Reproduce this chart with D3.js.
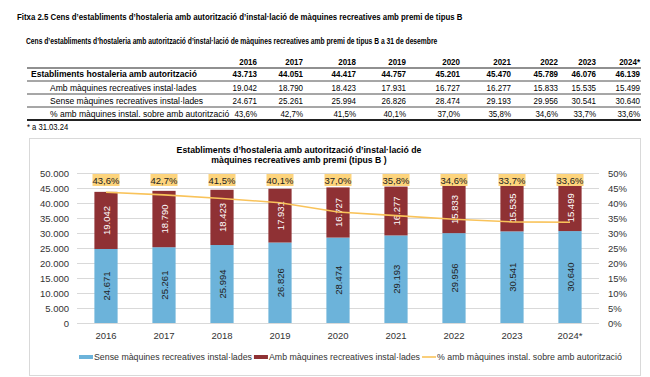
<!DOCTYPE html>
<html>
<head>
<meta charset="utf-8">
<script src="https://cdn.jsdelivr.net/npm/d3@7"></script>
<style>
  body { margin: 0; background: #fff; }
  text { font-family: "Liberation Sans", Arial, sans-serif; }
</style>
</head>
<body>
<div id="chart"></div>
<script>
// data
const years = ["2016", "2017", "2018", "2019", "2020", "2021", "2022", "2023", "2024*"];
const totals = [43713, 44051, 44417, 44757, 45201, 45470, 45789, 46076, 46139];
const amb = [19042, 18790, 18423, 17931, 16727, 16277, 15833, 15535, 15499];
const sense = [24671, 25261, 25994, 26826, 28474, 29193, 29956, 30541, 30640];
const pct = [43.6, 42.7, 41.5, 40.1, 37.0, 35.8, 34.6, 33.7, 33.6];
const rowLabels = ["Establiments hostaleria amb autorització", "Amb màquines recreatives instal·lades",
    "Sense màquines recreatives instal·lades", "% amb màquines instal. sobre amb autorització"];
const legendLabels = ["Sense màquines recreatives instal·lades", "Amb màquines recreatives instal·lades",
    "% amb màquines instal. sobre amb autorització"];

const loc = d3.formatLocale({ decimal: ",", thousands: ".", grouping: [3], currency: ["", "€"] });
const fmtN = loc.format(",.0f");
const fmtP = loc.format(".1f");
const fmtPct = loc.format(".0%");

const colBlue = "#6cb3da", colRed = "#8f3134", colLine = "#f9c35a", colBox = "#fdd47c";

const width = 650, height = 377;
const svg = d3.select("#chart").append("svg")
    .attr("width", width).attr("height", height);

// no narrow font installed: squeeze text horizontally instead
function ntext(g, x, y, k, txt) {
    return g.append("text")
        .attr("transform", `translate(${x},${y}) scale(${k},1)`)
        .attr("dominant-baseline", "central")
        .text(txt);
}

// headings
ntext(svg, 17, 16.5, 0.8, "Fitxa 2.5 Cens d’establiments d’hostaleria amb autorització d’instal·lació de màquines recreatives amb premi de tipus B")
    .style("font-size", "9.8px").style("font-weight", "bold");
ntext(svg, 26, 41, 0.8, "Cens d’establiments d’hostaleria amb autorització d’instal·lació de màquines recreatives amb premi de tipus B a 31 de desembre")
    .style("font-size", "8.4px").style("font-weight", "bold");

// table
const colRight = [257, 303, 356, 406, 460, 511, 558, 596, 640];
const rowY = [74, 87.5, 100.5, 113.5];
const kT = 0.84, kL = 0.9;
const table = svg.append("g");
years.forEach((d, i) => {
    ntext(table, colRight[i], 62, kT, d)
        .attr("text-anchor", "end")
        .style("font-size", "9.5px").style("font-weight", "bold");
});
[68, 81, 94, 107].forEach(y => {
    table.append("line").attr("x1", 27).attr("x2", 641).attr("y1", y).attr("y2", y)
        .attr("stroke", "#222").attr("stroke-width", y === 68 ? 1.2 : 0.8);
});
table.append("line").attr("x1", 27).attr("x2", 641).attr("y1", 120).attr("y2", 120)
    .attr("stroke", "#222").attr("stroke-width", 1.8);

const rows = [totals.map(fmtN), amb.map(fmtN), sense.map(fmtN), pct.map(d => fmtP(d) + "%")];
rows.forEach((vals, r) => {
    ntext(table, r === 0 ? 31 : 50, rowY[r], kL, rowLabels[r])
        .style("font-size", "9.5px").style("font-weight", r === 0 ? "bold" : "normal");
    vals.forEach((v, i) => {
        ntext(table, colRight[i], rowY[r], kT, v)
            .attr("text-anchor", "end")
            .style("font-size", "9.5px").style("font-weight", r === 0 ? "bold" : "normal");
    });
});
ntext(svg, 27, 127, 0.9, "* a 31.03.24").style("font-size", "8.5px");

// chart frame
svg.append("rect").attr("x", 29.5).attr("y", 138.5).attr("width", 611).attr("height", 237)
    .attr("fill", "#fff").attr("stroke", "#d9d9d9");

const title = svg.append("text").attr("text-anchor", "middle")
    .style("font-size", "8.7px").style("font-weight", "bold");
title.append("tspan").attr("x", 299).attr("y", 152.5)
    .text("Establiments d’hostaleria amb autorització d’instal·lació de");
title.append("tspan").attr("x", 299).attr("y", 162.5)
    .text("màquines recreatives amb premi (tipus B )");

// scales
const x = d3.scaleBand().domain(years).range([77, 599]).paddingInner(0.6).paddingOuter(0.3);
const y = d3.scaleLinear().domain([0, 50000]).range([323, 173]);
const yR = d3.scaleLinear().domain([0, 0.5]).range([323, 173]);
const ticks = d3.range(0, 50001, 5000);

// grid
svg.append("g").selectAll("line").data(ticks).join("line")
    .attr("x1", 77).attr("x2", 599)
    .attr("y1", d => y(d) + 0.5).attr("y2", d => y(d) + 0.5)
    .attr("stroke", "#d9d9d9");

// axes
const axL = svg.append("g").attr("transform", "translate(77,0)")
    .call(d3.axisLeft(y).tickValues(ticks).tickFormat(fmtN).tickSize(0).tickPadding(8));
const axR = svg.append("g").attr("transform", "translate(599,0)")
    .call(d3.axisRight(yR).tickValues(d3.range(0, 0.51, 0.05)).tickFormat(fmtPct).tickSize(0).tickPadding(9));
const axB = svg.append("g").attr("transform", "translate(0,323)")
    .call(d3.axisBottom(x).tickSize(0).tickPadding(9));
[axL, axR, axB].forEach(a => {
    a.select(".domain").remove();
    a.selectAll("text").style("font-size", "9.5px").style("font-family", "\"Liberation Sans\", Arial, sans-serif").attr("fill", "#333");
});

// stacked bars
const data = years.map((yr, i) => ({ yr, sense: sense[i], amb: amb[i], total: totals[i], pct: pct[i] }));
const bars = svg.append("g");
bars.selectAll(".b1").data(data).join("rect")
    .attr("x", d => x(d.yr)).attr("width", x.bandwidth())
    .attr("y", d => y(d.sense)).attr("height", d => y(0) - y(d.sense))
    .attr("fill", colBlue);
bars.selectAll(".b2").data(data).join("rect")
    .attr("x", d => x(d.yr)).attr("width", x.bandwidth())
    .attr("y", d => y(d.sense + d.amb)).attr("height", d => y(d.sense) - y(d.sense + d.amb))
    .attr("fill", colRed);

// labels inside bars
bars.selectAll(".l1").data(data).join("text")
    .attr("transform", d => `translate(${x(d.yr) + x.bandwidth() / 2},${y(d.sense / 2)}) rotate(-90)`)
    .attr("text-anchor", "middle").attr("dominant-baseline", "central")
    .style("font-size", "9.5px").attr("fill", "#222")
    .text(d => fmtN(d.sense));
bars.selectAll(".l2").data(data).join("text")
    .attr("transform", d => `translate(${x(d.yr) + x.bandwidth() / 2},${y(d.sense + d.amb / 2)}) rotate(-90)`)
    .attr("text-anchor", "middle").attr("dominant-baseline", "central")
    .style("font-size", "9.5px").attr("fill", "#fff")
    .text(d => fmtN(d.amb));

// % line
const line = d3.line()
    .x(d => x(d.yr) + x.bandwidth() / 2)
    .y(d => yR(d.pct / 100));
svg.append("path").datum(data)
    .attr("d", line).attr("fill", "none")
    .attr("stroke", colLine).attr("stroke-width", 1.6);

// % labels in boxes
const pl = svg.append("g").selectAll("g").data(data).join("g")
    .attr("transform", d => `translate(${x(d.yr) + x.bandwidth() / 2},${y(48000) + 1})`);
pl.append("rect").attr("x", -13.5).attr("y", -6).attr("width", 27).attr("height", 12)
    .attr("fill", colBox);
pl.append("text").attr("text-anchor", "middle").attr("dominant-baseline", "central")
    .style("font-size", "9.5px").attr("fill", "#222")
    .text(d => fmtP(d.pct) + "%");

// legend
const leg = svg.append("g").attr("transform", "translate(79,357)");
let lx = 0;
legendLabels.forEach((lab, i) => {
    if (i < 2) {
        leg.append("rect").attr("x", lx).attr("y", -2).attr("width", 14).attr("height", 4)
            .attr("fill", i === 0 ? colBlue : colRed);
    } else {
        leg.append("line").attr("x1", lx).attr("x2", lx + 14).attr("y1", 0).attr("y2", 0)
            .attr("stroke", colLine).attr("stroke-width", 1.6);
    }
    const t = leg.append("text").attr("x", lx + 15).attr("y", 0)
        .attr("dominant-baseline", "central")
        .style("font-size", "8.8px").attr("fill", "#333")
        .text(lab);
    lx += 15 + t.node().getComputedTextLength() + 2;
});
</script>
</body>
</html>
